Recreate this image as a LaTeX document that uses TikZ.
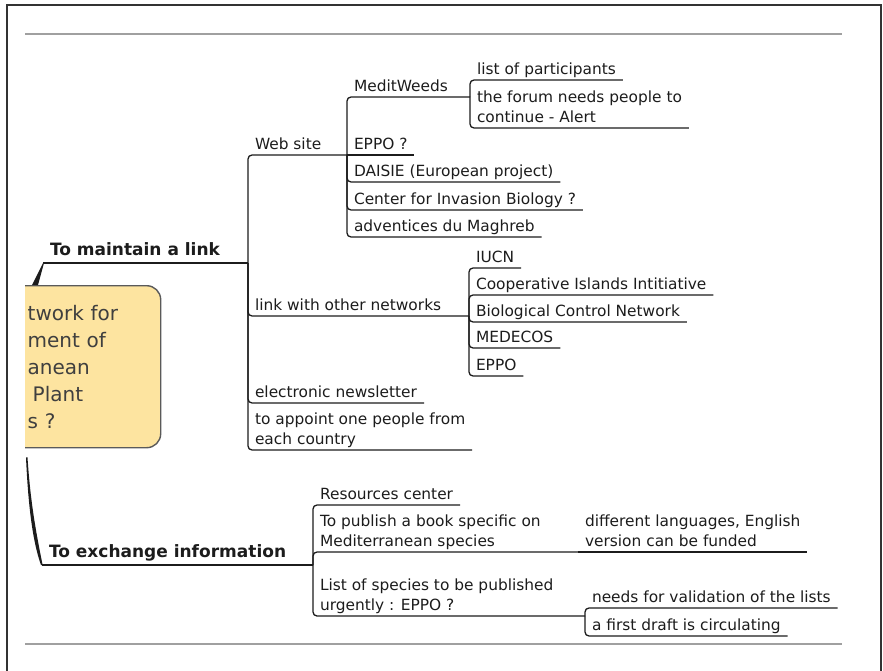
\documentclass[tikz,border=0pt]{standalone}
\usepackage{fontspec}
\setmainfont{DejaVu Sans}
\usetikzlibrary{calc}
\definecolor{ink}{HTML}{1C1C1C}
\definecolor{hubfill}{HTML}{FDE4A0}
\definecolor{hubedge}{HTML}{5A5A5A}
\definecolor{hubtext}{HTML}{3F3F3F}
\definecolor{rulegray}{HTML}{A0A0A0}
\definecolor{framegray}{HTML}{333333}
\newcommand\twolines[2]{\begin{tabular}[b]{@{}l@{}}#1\\#2\end{tabular}}
\begin{document}
\begin{tikzpicture}[x=1pt,y=-1pt,
  topic/.style={anchor=south west, inner xsep=7pt, inner ysep=0pt, outer sep=0pt,
    text depth=5.5pt, text=ink, font=\fontsize{15.4}{20}\selectfont},
  major/.style={topic, text depth=7.5pt, font=\bfseries\fontsize{17}{20}\selectfont},
  hubbox/.style={anchor=north west, rectangle, rounded corners=14pt, fill=hubfill,
    draw=hubedge, line width=1.4pt, text width=111pt, align=left, inner xsep=22pt,
    inner ysep=0pt, minimum height=162pt, text=hubtext,
    font=\fontsize{20}{27}\selectfont},
  branch/.style={draw=ink, line width=1.3pt, rounded corners=4pt},
  trunk/.style={draw=ink, line width=1.7pt},
  ruleline/.style={draw=rulegray, line width=2pt},
  framing/.style={draw=framegray, line width=2.6pt}]
\useasboundingbox (0,0) rectangle (883,671);

% page frame and rules
\draw[framing] (7,671) -- (7,5) -- (881,5) -- (881,671);
\draw[ruleline] (25,34) -- (842,34);
\draw[ruleline] (25,644) -- (842,644);

% central topic, cut at the left margin
\begin{scope}
  \clip (25,0) rectangle (883,671);
  \node[hubbox] (hub) at (5,285)
    {twork for\\ment of\\anean\\\hspace*{5pt}Plant\\s ?};
\end{scope}

% main topics
\node[major] (maintain) at (43,263) {To maintain a link};
\node[major] (exchange) at (42,565) {To exchange information};

% junction points of the brackets
\coordinate (mainJ) at (248,263);
\coordinate (exchJ) at (313,565);
\coordinate (webJ) at (347,155);
\coordinate (linksJ) at (469,316);
\coordinate (meditJ) at (470,97);
\coordinate (publishJ) at (578,552);
\coordinate (listJ) at (585,616);

% "To maintain a link" subtopics
\node[topic] (web) at (248,155) {Web site};
\node[topic] (links) at (248,316) {link with other networks};
\node[topic] (news) at (248,403) {electronic newsletter};
\node[topic] (appoint) at (248,450) {\twolines{to appoint one people from}{each country}};

\node[topic] (medit) at (347,97) {MeditWeeds};
\node[topic] (eppoQ) at (347,155) {EPPO ?};
\node[topic] (daisie) at (347,182) {DAISIE (European project)};
\node[topic] (cib) at (347,210) {Center for Invasion Biology ?};
\node[topic] (adv) at (347,237) {adventices du Maghreb};

\node[topic] (parts) at (470,80) {list of participants};
\node[topic] (forum) at (470,128) {\twolines{the forum needs people to}{continue - Alert}};

\node[topic] (iucn) at (469,268) {IUCN};
\node[topic] (coop) at (469,295) {Cooperative Islands Intitiative};
\node[topic] (bcn) at (469,322) {Biological Control Network};
\node[topic] (medecos) at (469,348) {MEDECOS};
\node[topic] (eppo) at (469,376) {EPPO};

% "To exchange information" subtopics
\node[topic] (res) at (313,505) {Resources center};
\node[topic] (publish) at (313,552) {\twolines{To publish a book specific on}{Mediterranean species}};
\node[topic] (listsp) at (313,616) {\twolines{List of species to be published}{urgently : EPPO ?}};
\node[topic] (diff) at (578,552) {\twolines{different languages, English}{version can be funded}};
\node[topic] (valid) at (585,608) {needs for validation of the lists};
\node[topic] (draft) at (585,636) {a first draft is circulating};

% tapered links from the central topic
\fill[ink] ($(hub.north west)+(27,0)$) -- ($(hub.north west)+(33,0)$)
  -- ($(maintain.south west)+(1,0)$) -- (maintain.south west) -- cycle;
\fill[ink] ($(hub.south west)+(21,9)$) .. controls +(2,44) and +(-9,-25) ..
  ($(exchange.south west)+(-1,0)$) -- ($(exchange.south west)+(0.6,0)$)
  .. controls +(-7,-35) and +(3,45) .. ($(hub.south west)+(22.5,9)$) -- cycle;

% main topic underlines
\draw[trunk] (maintain.south west) -- (mainJ);
\draw[trunk] (exchange.south west) -- (exchJ);

% branches
\draw[branch] (mainJ) |- (webJ);
\draw[branch] (mainJ) |- (linksJ);
\draw[branch] (mainJ) |- (news.south east);
\draw[branch] (mainJ) |- (appoint.south east);

\draw[branch] (webJ) |- (meditJ);
\draw[branch] (webJ) -- (eppoQ.south east);
\draw[branch] (webJ) |- (daisie.south east);
\draw[branch] (webJ) |- (cib.south east);
\draw[branch] (webJ) |- (adv.south east);

\draw[branch] (meditJ) |- (parts.south east);
\draw[branch] (meditJ) |- (forum.south east);

\draw[branch] (linksJ) |- (iucn.south east);
\draw[branch] (linksJ) |- (coop.south east);
\draw[branch] (linksJ) |- (bcn.south east);
\draw[branch] (linksJ) |- (medecos.south east);
\draw[branch] (linksJ) |- (eppo.south east);

\draw[branch] (exchJ) |- (res.south east);
\draw[branch] (exchJ) |- (publishJ);
\draw[branch] (exchJ) |- (listJ);
\draw[branch] (publishJ) -- (diff.south east);
\draw[branch] (listJ) |- (valid.south east);
\draw[branch] (listJ) |- (draft.south east);
\end{tikzpicture}
\end{document}
